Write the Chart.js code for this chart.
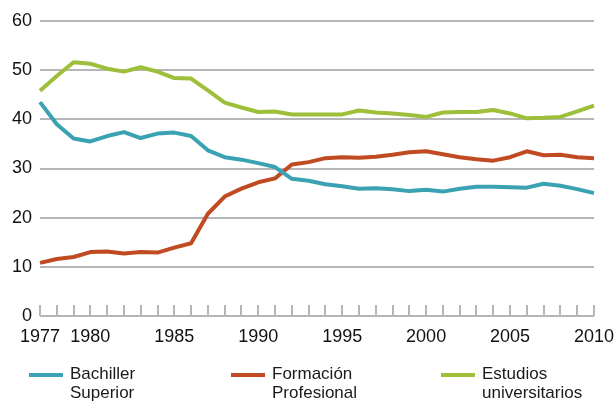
<!DOCTYPE html>
<html>
<head>
<meta charset="utf-8">
<script src="https://cdn.jsdelivr.net/npm/chart.js@4.4.1/dist/chart.umd.min.js"></script>
<style>
  html, body { margin: 0; padding: 0; background: #fff; }
  #wrap { position: relative; width: 616px; height: 401px; overflow: hidden; }
  #chart { position: absolute; left: 0; top: 0; }
  .legend-item { position: absolute; top: 364px; font-family: "Liberation Sans", Arial, sans-serif;
    font-size: 17px; line-height: 19px; color: #1a1a1a; }
  .legend-item .swatch { position: absolute; left: 0; top: 9px; width: 34px; height: 4px; }
  .legend-item .txt { position: absolute; left: 41px; top: 0; white-space: nowrap; }
</style>
</head>
<body>
<div id="wrap">
  <canvas id="chart" width="616" height="401"></canvas>
  <div id="legend"></div>
</div>
<script>
// years on the x axis
const years = [1977, 1978, 1979, 1980, 1981, 1982, 1983, 1984, 1985, 1986, 1987,
  1988, 1989, 1990, 1991, 1992, 1993, 1994, 1995, 1996, 1997, 1998, 1999, 2000,
  2001, 2002, 2003, 2004, 2005, 2006, 2007, 2008, 2009, 2010];
const yearLabels = [1977, 1980, 1985, 1990, 1995, 2000, 2005, 2010];
const yTicks = [0, 10, 20, 30, 40, 50, 60];

// values (%)
const bachillerSuperior = [43.5, 39.0, 36.1, 35.5, 36.6, 37.4, 36.2, 37.1, 37.3, 36.6, 33.7,
  32.3, 31.8, 31.1, 30.3, 27.9, 27.5, 26.8, 26.4, 25.9, 26.0, 25.8, 25.4, 25.7,
  25.3, 25.9, 26.3, 26.3, 26.2, 26.1, 26.9, 26.5, 25.8, 25.0];
const formacionProfesional = [10.8, 11.6, 12.0, 13.0, 13.1, 12.7, 13.0, 12.9, 13.9, 14.8, 20.8,
  24.3, 25.9, 27.2, 28.0, 30.8, 31.3, 32.1, 32.3, 32.2, 32.4, 32.8, 33.3, 33.5,
  32.9, 32.3, 31.9, 31.6, 32.3, 33.5, 32.7, 32.8, 32.3, 32.1];
const estudiosUniversitarios = [45.8, 48.8, 51.6, 51.3, 50.3, 49.7, 50.6, 49.7, 48.4, 48.3, 45.9,
  43.4, 42.4, 41.5, 41.6, 41.0, 41.0, 41.0, 41.0, 41.8, 41.4, 41.2, 40.9, 40.5,
  41.4, 41.5, 41.5, 41.9, 41.2, 40.2, 40.3, 40.5, 41.6, 42.8];

const seriesNames = [['Bachiller', 'Superior'], ['Formación', 'Profesional'], ['Estudios', 'universitarios']];
const seriesColors = ['#3aa2b2', '#c04b22', '#9ebf3a'];
const legendLeft = [29, 231, 441];

const FONT = '"Liberation Sans", Arial, sans-serif';
const GRID = '#b6b6b9';

// small upward tick marks for every year along the baseline
const yearTicksPlugin = {
  id: 'yearTicks',
  afterDatasetsDraw(chart) {
    const { ctx, scales: { x, y } } = chart;
    const base = y.getPixelForValue(0);
    ctx.save();
    ctx.strokeStyle = GRID;
    ctx.lineWidth = 2;
    years.forEach((yr, i) => {
      const px = Math.round(x.getPixelForValue(i));
      ctx.beginPath();
      ctx.moveTo(px, base);
      ctx.lineTo(px, base - 11);
      ctx.stroke();
    });
    ctx.restore();
  }
};

const datasets = [bachillerSuperior, formacionProfesional, estudiosUniversitarios].map((d, i) => ({
  label: seriesNames[i].join(' '),
  data: d,
  borderColor: seriesColors[i],
  backgroundColor: seriesColors[i],
  borderWidth: 4,
  pointRadius: 0,
  tension: 0,
  borderJoinStyle: 'round',
  fill: false
}));

new Chart(document.getElementById('chart'), {
  type: 'line',
  data: { labels: years, datasets: datasets },
  options: {
    responsive: false,
    animation: false,
    layout: { padding: { top: 21, right: 22, left: 0, bottom: 0 } },
    plugins: { legend: { display: false }, tooltip: { enabled: false } },
    scales: {
      x: {
        type: 'category',
        offset: false,
        grid: { display: false },
        border: { display: false },
        afterFit(scale) {
          scale.height = 85;
          scale.paddingLeft = 0;
          scale.paddingRight = 0;
        },
        ticks: {
          autoSkip: false,
          maxRotation: 0,
          padding: 2,
          color: '#111',
          font: { family: FONT, size: 18 },
          callback(val, idx) {
            const yr = years[idx];
            return yearLabels.includes(yr) ? String(yr) : '';
          }
        }
      },
      y: {
        min: 0,
        max: 60,
        afterFit(scale) {
          scale.width = 40;
          scale.paddingTop = 0;
          scale.paddingBottom = 0;
        },
        afterBuildTicks(scale) { scale.ticks = yTicks.map(v => ({ value: v })); },
        grid: { color: GRID, lineWidth: 2, drawTicks: false },
        border: { display: false },
        ticks: {
          padding: 8,
          color: '#111',
          font: { family: FONT, size: 18 }
        }
      }
    }
  },
  plugins: [yearTicksPlugin]
});

// legend with two-line labels
const legend = document.getElementById('legend');
seriesNames.forEach((lines, i) => {
  const item = document.createElement('div');
  item.className = 'legend-item';
  item.style.left = legendLeft[i] + 'px';
  const sw = document.createElement('div');
  sw.className = 'swatch';
  sw.style.background = seriesColors[i];
  const txt = document.createElement('div');
  txt.className = 'txt';
  txt.innerHTML = lines.join('<br>');
  item.appendChild(sw);
  item.appendChild(txt);
  legend.appendChild(item);
});
</script>
</body>
</html>
